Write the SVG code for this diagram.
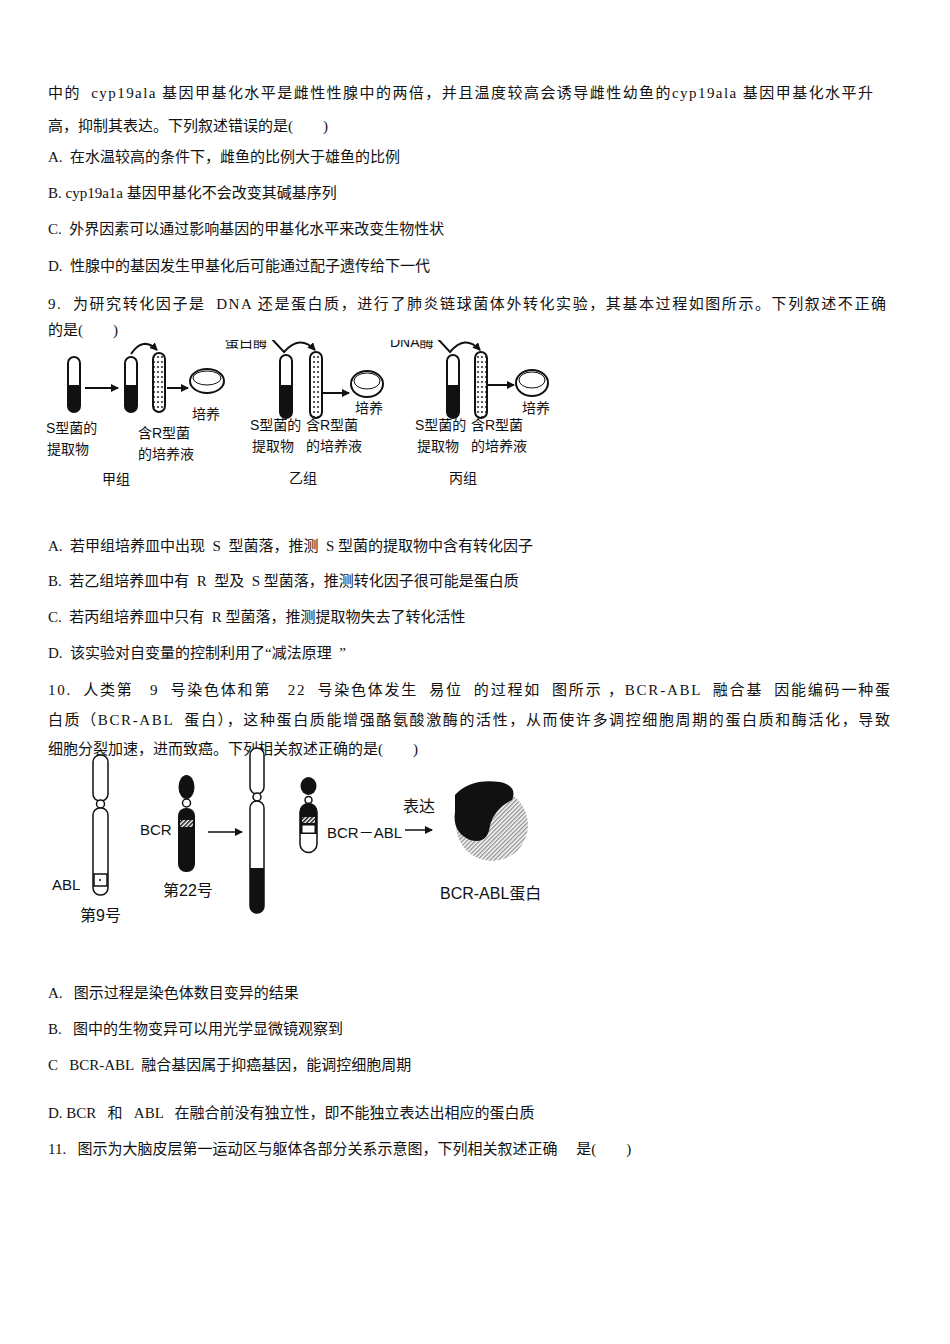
<svg xmlns="http://www.w3.org/2000/svg" width="950" height="1344" viewBox="0 0 950 1344">
<style>
.t{font-family:"Liberation Serif","Noto Sans CJK SC",serif;font-size:15px;fill:#111;white-space:pre}
.f{font-family:"Liberation Sans","Noto Sans CJK SC",sans-serif;font-size:14px;fill:#111;white-space:pre}
.ln{stroke:#111;stroke-width:2;fill:none}
.tube{stroke:#111;stroke-width:2}
</style>
<defs>
<marker id="ah" markerWidth="8" markerHeight="8" refX="7" refY="4" orient="auto" markerUnits="userSpaceOnUse"><path d="M0,0 L8,4 L0,8 z" fill="#111"/></marker>
<pattern id="dots" width="4" height="5" patternUnits="userSpaceOnUse"><rect width="4" height="5" fill="#fff"/><circle cx="2" cy="2" r="1" fill="#222"/></pattern>
<pattern id="hatch" width="3" height="3" patternUnits="userSpaceOnUse" patternTransform="rotate(45)"><rect width="3" height="3" fill="#fff"/><rect width="1.5" height="3" fill="#111"/></pattern>
<clipPath id="topclip"><rect x="0" y="340" width="950" height="200"/></clipPath>
</defs>
<rect width="950" height="1344" fill="#fff"/>
<g id="text">
<text class="t" x="48" y="98" textLength="825">中的  cyp19ala 基因甲基化水平是雌性性腺中的两倍，并且温度较高会诱导雌性幼鱼的cyp19ala 基因甲基化水平升</text>
<text class="t" x="48" y="131">高，抑制其表达。下列叙述错误的是(　　)</text>
<text class="t" x="48" y="162">A.  在水温较高的条件下，雌鱼的比例大于雄鱼的比例</text>
<text class="t" x="48" y="198">B. cyp19a1a 基因甲基化不会改变其碱基序列</text>
<text class="t" x="48" y="234">C.  外界因素可以通过影响基因的甲基化水平来改变生物性状</text>
<text class="t" x="48" y="271">D.  性腺中的基因发生甲基化后可能通过配子遗传给下一代</text>
<text class="t" x="48" y="309" textLength="838">9.  为研究转化因子是  DNA 还是蛋白质，进行了肺炎链球菌体外转化实验，其基本过程如图所示。下列叙述不正确</text>
<text class="t" x="48" y="335">的是(　　)</text>
<text class="t" x="48" y="551">A.  若甲组培养皿中出现  S  型菌落，推测  S 型菌的提取物中含有转化因子</text>
<text class="t" x="48" y="586">B.  若乙组培养皿中有  R  型及  S 型菌落，推测转化因子很可能是蛋白质</text>
<text class="t" x="48" y="622">C.  若丙组培养皿中只有  R 型菌落，推测提取物失去了转化活性</text>
<text class="t" x="48" y="658">D.  该实验对自变量的控制利用了“减法原理  ”</text>
<text class="t" x="48" y="695" textLength="842">10.  人类第   9  号染色体和第   22  号染色体发生  易位  的过程如  图所示 ，BCR-ABL  融合基  因能编码一种蛋</text>
<text class="t" x="48" y="725" textLength="842">白质（BCR-ABL  蛋白），这种蛋白质能增强酪氨酸激酶的活性，从而使许多调控细胞周期的蛋白质和酶活化，导致</text>
<text class="t" x="48" y="754">细胞分裂加速，进而致癌。下列相关叙述正确的是(　　)</text>
<text class="t" x="48" y="998">A.   图示过程是染色体数目变异的结果</text>
<text class="t" x="48" y="1034">B.   图中的生物变异可以用光学显微镜观察到</text>
<text class="t" x="48" y="1070">C   BCR-ABL  融合基因属于抑癌基因，能调控细胞周期</text>
<text class="t" x="48" y="1118">D. BCR   和   ABL   在融合前没有独立性，即不能独立表达出相应的蛋白质</text>
<text class="t" x="48" y="1154">11.   图示为大脑皮层第一运动区与躯体各部分关系示意图，下列相关叙述正确     是(　　)</text>
</g>
<g id="fig1">
<g id="jia">
<rect class="tube" x="68" y="357" width="12" height="55" rx="6" fill="#fff"/><path d="M68,385 H80 V406 A6,6 0 0 1 68,406 Z" fill="#111"/>
<rect class="tube" x="125" y="357" width="12" height="55" rx="6" fill="#fff"/><path d="M125,385 H137 V406 A6,6 0 0 1 125,406 Z" fill="#111"/>
<rect class="tube" x="153" y="353" width="12" height="59" rx="6" fill="url(#dots)"/>
<path class="ln" d="M131,354 Q143,336 157,350" marker-end="url(#ah)" stroke-width="1.2"/>
<line class="ln" x1="85" y1="388" x2="118" y2="388" marker-end="url(#ah)"/>
<line class="ln" x1="167" y1="388" x2="188" y2="388" marker-end="url(#ah)"/>
<ellipse cx="207" cy="381" rx="17" ry="12" fill="#fff" stroke="#111" stroke-width="2"/>
<ellipse cx="207" cy="378" rx="14" ry="7" fill="none" stroke="#111" stroke-width="1"/>
<text class="f" x="192" y="419">培养</text>
<text class="f" x="46" y="433">S型菌的</text><text class="f" x="47" y="454">提取物</text>
<text class="f" x="138" y="438">含R型菌</text><text class="f" x="138" y="459">的培养液</text>
<text class="f" x="102" y="484">甲组</text>
</g>
<g id="yi">
<text class="f" x="225" y="347" clip-path="url(#topclip)">蛋白酶</text>
<path class="ln" d="M271,338 L284,352 Q300,334 315,350" marker-end="url(#ah)" stroke-width="1.2" clip-path="url(#topclip)"/>
<rect class="tube" x="280" y="355" width="12" height="63" rx="6" fill="#fff"/><path d="M280,385 H292 V412 A6,6 0 0 1 280,412 Z" fill="#111"/>
<rect class="tube" x="310" y="352" width="12" height="66" rx="6" fill="url(#dots)"/>
<line class="ln" x1="323" y1="393" x2="349" y2="393" marker-end="url(#ah)"/>
<ellipse cx="367" cy="384" rx="16" ry="13" fill="#fff" stroke="#111" stroke-width="2"/>
<ellipse cx="367" cy="381" rx="13" ry="8" fill="none" stroke="#111" stroke-width="1"/>
<text class="f" x="355" y="413">培养</text>
<text class="f" x="250" y="430">S型菌的</text><text class="f" x="252" y="451">提取物</text>
<text class="f" x="306" y="430">含R型菌</text><text class="f" x="306" y="451">的培养液</text>
<text class="f" x="289" y="483">乙组</text>
</g>
<g id="bing">
<text class="f" x="390" y="347" clip-path="url(#topclip)">DNA酶</text>
<path class="ln" d="M437,338 L450,352 Q465,334 480,350" marker-end="url(#ah)" stroke-width="1.2" clip-path="url(#topclip)"/>
<rect class="tube" x="447" y="355" width="12" height="63" rx="6" fill="#fff"/><path d="M447,385 H459 V412 A6,6 0 0 1 447,412 Z" fill="#111"/>
<rect class="tube" x="475" y="352" width="12" height="66" rx="6" fill="url(#dots)"/>
<line class="ln" x1="488" y1="385" x2="514" y2="385" marker-end="url(#ah)"/>
<ellipse cx="532" cy="383" rx="16" ry="13" fill="#fff" stroke="#111" stroke-width="2"/>
<ellipse cx="532" cy="380" rx="13" ry="8" fill="none" stroke="#111" stroke-width="1"/>
<text class="f" x="522" y="413">培养</text>
<text class="f" x="415" y="430">S型菌的</text><text class="f" x="417" y="451">提取物</text>
<text class="f" x="471" y="430">含R型菌</text><text class="f" x="471" y="451">的培养液</text>
<text class="f" x="449" y="483">丙组</text>
</g>
</g>
<g id="fig2">
<g id="chr9">
<rect x="93" y="755" width="15" height="46" rx="7" fill="#fff" stroke="#111" stroke-width="1.5"/>
<circle cx="100.5" cy="804" r="4" fill="#fff" stroke="#111" stroke-width="1.5"/>
<rect x="93" y="808" width="15" height="87" rx="7" fill="#fff" stroke="#111" stroke-width="1.5"/>
<rect x="94" y="874" width="13" height="12" fill="#fff" stroke="#111" stroke-width="1.5"/>
<circle cx="100" cy="880" r="1" fill="#111"/>
<text class="f" x="52" y="890" style="font-size:15px">ABL</text>
<text class="f" x="80" y="921" style="font-size:16px">第9号</text>
</g>
<g id="chr22">
<ellipse cx="186.5" cy="787" rx="8" ry="12" fill="#111"/>
<circle cx="186.5" cy="803" r="4" fill="#fff" stroke="#111" stroke-width="1.5"/>
<rect x="178" y="808" width="17" height="64" rx="8" fill="#111"/>
<rect x="180" y="820" width="13" height="7" fill="url(#hatch)"/>
<text class="f" x="140" y="835" style="font-size:15px">BCR</text>
<text class="f" x="163" y="896" style="font-size:16px">第22号</text>
</g>
<line x1="208" y1="832" x2="242" y2="832" stroke="#111" stroke-width="1.5" marker-end="url(#ah)"/>
<g id="der9">
<rect x="250" y="748" width="14" height="46" rx="7" fill="#fff" stroke="#111" stroke-width="1.5"/>
<circle cx="257" cy="797" r="4" fill="#fff" stroke="#111" stroke-width="1.5"/>
<path d="M250,808 A7,7 0 0 1 264,808 V906 A7,7 0 0 1 250,906 Z" fill="#fff" stroke="#111" stroke-width="1.5"/>
<path d="M250,868 H264 V906 A7,7 0 0 1 250,906 Z" fill="#111"/>
</g>
<g id="der22">
<ellipse cx="308.5" cy="786" rx="8" ry="9" fill="#111"/>
<circle cx="308.5" cy="800" r="3.5" fill="#fff" stroke="#111" stroke-width="1.5"/>
<path d="M300,812 A8,8 0 0 1 317,812 V844 A8,8 0 0 1 300,844 Z" fill="#fff" stroke="#111" stroke-width="1.5"/>
<path d="M300,812 A8,8 0 0 1 317,812 V834 H300 Z" fill="#111"/>
<rect x="302" y="817" width="13" height="6" fill="url(#hatch)"/>
<rect x="302" y="825" width="13" height="8" fill="#fff" stroke="#111" stroke-width="1"/>
</g>
<text class="f" x="327" y="838" style="font-size:15px">BCR－ABL</text>
<line x1="405" y1="830" x2="432" y2="830" stroke="#111" stroke-width="1.5" marker-end="url(#ah)"/>
<text class="f" x="403" y="812" style="font-size:16px">表达</text>
<g id="protein">
<ellipse cx="492" cy="825" rx="36" ry="36" fill="url(#hatch)" opacity="0.45"/>
<path d="M455,795 Q470,778 500,782 Q518,786 512,800 Q495,808 490,825 Q488,845 470,840 Q452,832 455,812 Z" fill="#111"/>
</g>
<text class="f" x="440" y="899" style="font-size:16px">BCR-ABL蛋白</text>
</g>
</svg>
